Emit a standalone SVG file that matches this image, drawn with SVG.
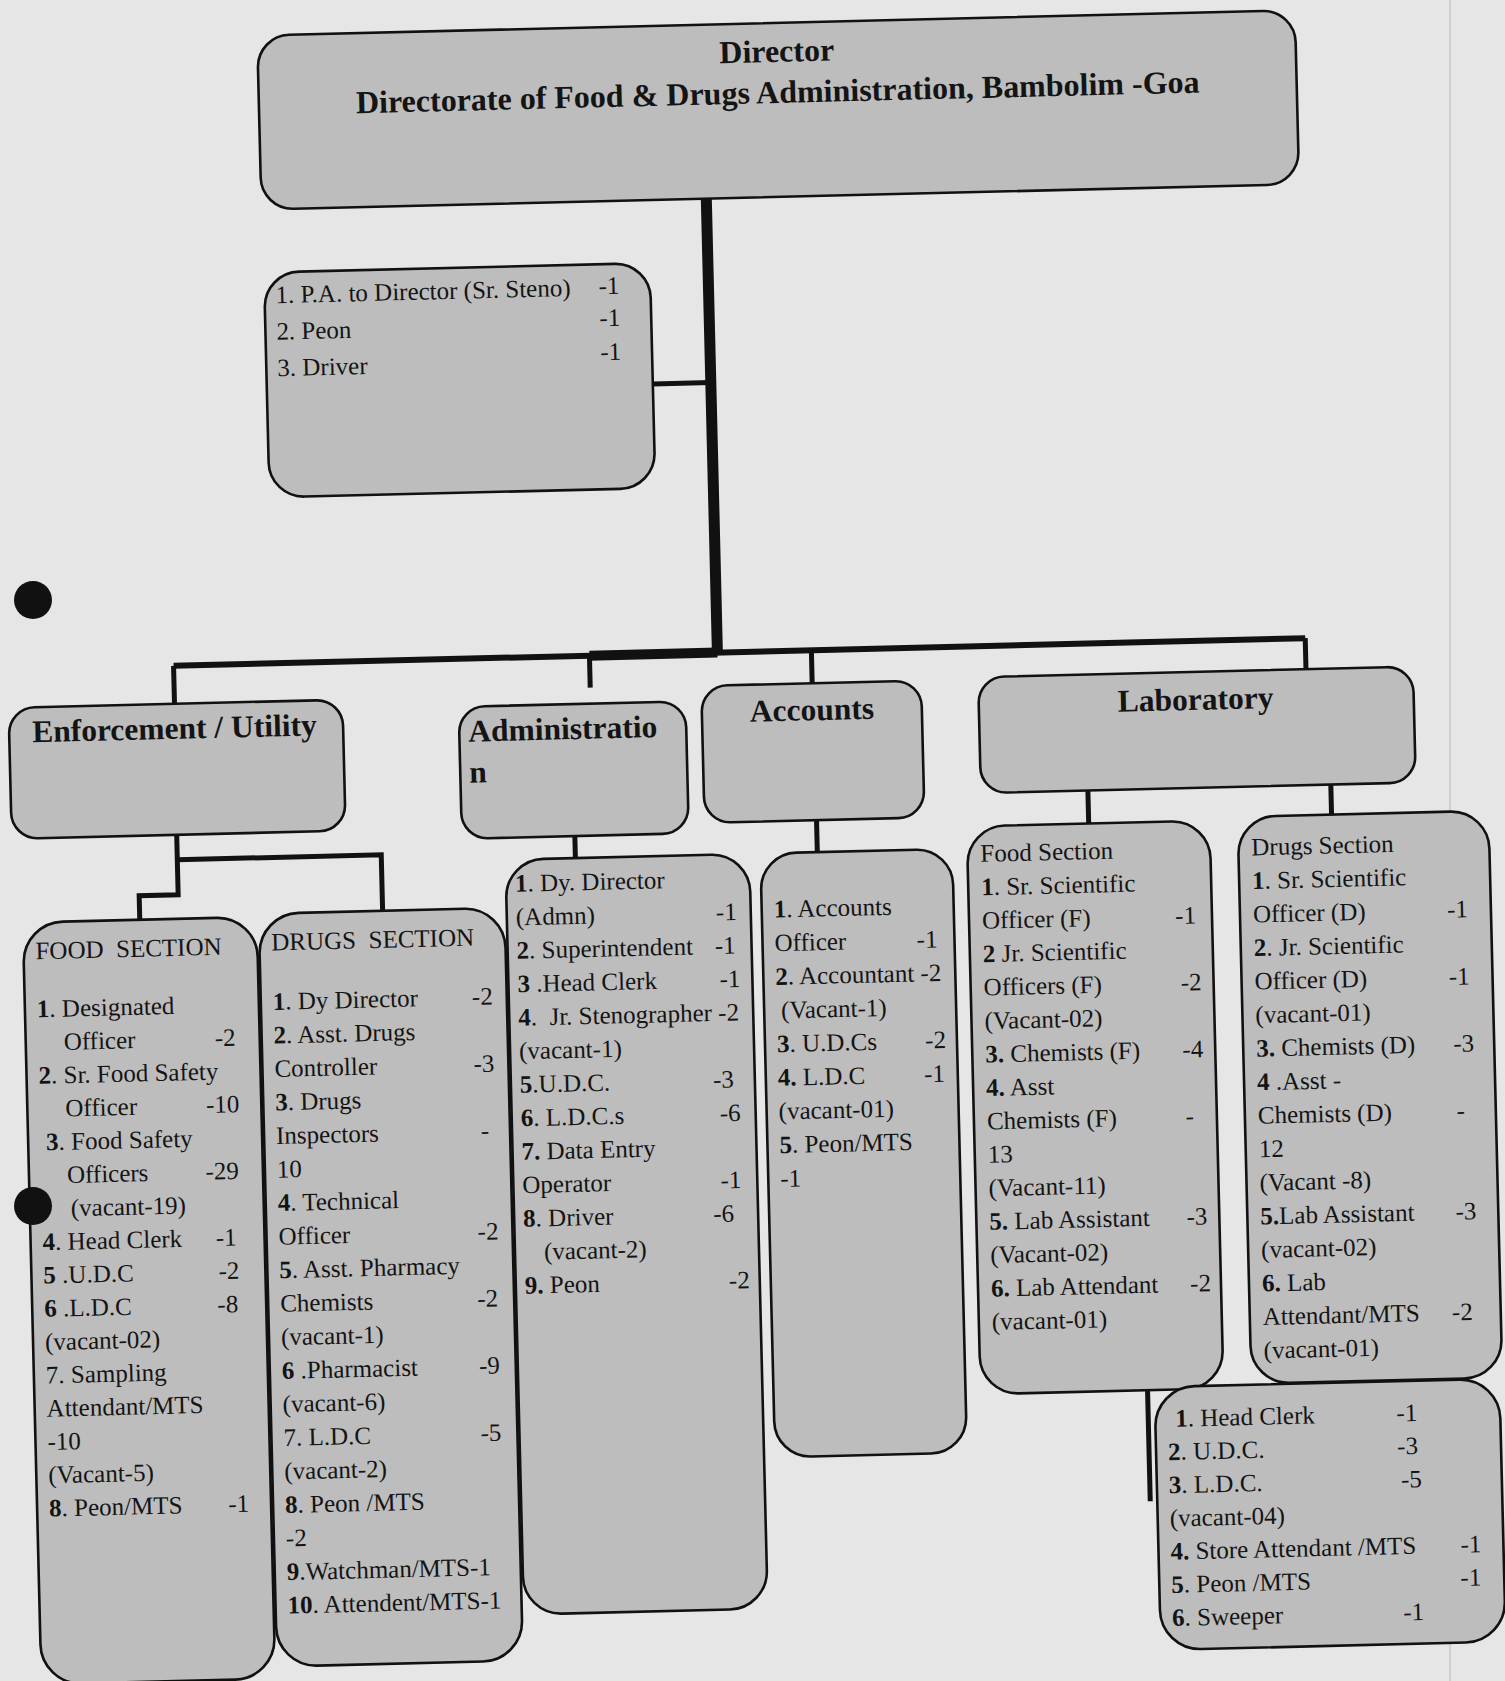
<svg xmlns="http://www.w3.org/2000/svg" width="1505" height="1681" viewBox="0 0 1505 1681">
<style>
.bx{fill:#bdbdbd;stroke:#111;stroke-width:2.6}
.t{font-family:"Liberation Serif","Times New Roman",serif;font-size:25px;fill:#141414}
.h{font-size:31.5px;font-weight:bold}
.d{font-size:32px;font-weight:bold}
.b{font-weight:bold}
.r{text-anchor:end}
.c{text-anchor:middle}
.cn{stroke:#111;fill:none;stroke-linecap:butt}
</style>
<rect x="0" y="0" width="1505" height="1681" fill="#e6e6e6"/>
<line x1="1450" y1="0" x2="1450" y2="1681" stroke="#cfcfcf" stroke-width="2"/>
<g transform="rotate(-1.4 700 800)">
<g id="connectors">
<path class="cn" stroke-width="11" d="M721,199 V653"/>
<path class="cn" stroke-width="5" d="M663,383 H721"/>
<path class="cn" stroke-width="6" d="M177,653 H1309"/>
<path class="cn" stroke-width="10" d="M593,653 H721"/>
<path class="cn" stroke-width="5" d="M177,653 V691 M593,653 V685 M815,653 V686 M1309,653 V684"/>
<path class="cn" stroke-width="5" d="M176,822 V882 H137 V906 M176,847 H380 V903"/>
<path class="cn" stroke-width="5" d="M574,833 V855 M816,823 V855 M1088,800 V833 M1331,800 V830 M1133,1399 V1512"/>
</g>
<g id="director">
<rect class="bx" x="276" y="25" width="1038" height="174" rx="32"/>
<text class="t d c" x="795" y="64">Director</text>
<text class="t d c" x="795" y="105">Directorate of Food &amp; Drugs Administration, Bambolim -Goa</text>
</g>
<g id="pa">
<rect class="bx" x="277" y="262" width="386" height="225" rx="35"/>
<text class="t" x="288" y="293">1. P.A. to Director (Sr. Steno)</text>
<text class="t" x="288" y="329.5">2. Peon</text>
<text class="t" x="288" y="366">3. Driver</text>
<text class="t r" x="632" y="292">-1</text>
<text class="t r" x="632" y="324">-1</text>
<text class="t r" x="632" y="358">-1</text>
</g>
<g id="enforcement">
<rect class="bx" x="11" y="691" width="334" height="131" rx="26"/>
<text class="t h" x="34" y="726">Enforcement / Utility</text>
</g>
<g id="administration">
<rect class="bx" x="461" y="701" width="227" height="132" rx="26"/>
<text class="t h" x="470" y="736">Administratio</text>
<text class="t h" x="470" y="777">n</text>
</g>
<g id="accounts">
<rect class="bx" x="704" y="686" width="220" height="137" rx="26"/>
<text class="t h c" x="814" y="723">Accounts</text>
</g>
<g id="laboratory">
<rect class="bx" x="981" y="684" width="435" height="116" rx="26"/>
<text class="t h c" x="1198" y="722">Laboratory</text>
</g>
<g id="food-section">
<rect class="bx" x="20" y="906" width="234" height="762" rx="40"/>
<text class="t" x="32" y="943" xml:space="preserve">FOOD  SECTION</text>
<text class="t" x="32" y="1001"><tspan class="b">1</tspan>. Designated</text>
<text class="t" x="58" y="1034.3">Officer</text><text class="t r" x="230" y="1034.3">-2</text>
<text class="t" x="32" y="1067.6"><tspan class="b">2</tspan>. Sr. Food Safety</text>
<text class="t" x="58" y="1100.9">Officer</text><text class="t r" x="232" y="1100.9">-10</text>
<text class="t" x="38" y="1134.2"><tspan class="b">3</tspan>. Food Safety</text>
<text class="t" x="58" y="1167.5">Officers</text><text class="t r" x="230" y="1167.5">-29</text>
<text class="t" x="61" y="1200.8">(vacant-19)</text>
<text class="t" x="32" y="1234.1"><tspan class="b">4</tspan>. Head Clerk</text><text class="t r" x="226" y="1234.1">-1</text>
<text class="t" x="32" y="1267.4"><tspan class="b">5</tspan> .U.D.C</text><text class="t r" x="228" y="1267.4">-2</text>
<text class="t" x="32" y="1300.7"><tspan class="b">6</tspan> .L.D.C</text><text class="t r" x="226" y="1300.7">-8</text>
<text class="t" x="32" y="1334">(vacant-02)</text>
<text class="t" x="32" y="1367.3">7. Sampling</text>
<text class="t" x="32" y="1400.6">Attendant/MTS</text>
<text class="t" x="32" y="1433.9">-10</text>
<text class="t" x="32" y="1467.2">(Vacant-5)</text>
<text class="t" x="32" y="1500.5"><tspan class="b">8</tspan>. Peon/MTS</text><text class="t r" x="232" y="1500.5">-1</text>
</g>
<g id="drugs-section">
<rect class="bx" x="256" y="903" width="246" height="753" rx="40"/>
<text class="t" x="268" y="940" xml:space="preserve">DRUGS  SECTION</text>
<text class="t" x="268" y="999.4"><tspan class="b">1</tspan>. Dy Director</text><text class="t r" x="488" y="999.4">-2</text>
<text class="t" x="268" y="1033"><tspan class="b">2</tspan>. Asst. Drugs</text>
<text class="t" x="268" y="1066.5">Controller</text><text class="t r" x="488" y="1066.5">-3</text>
<text class="t" x="268" y="1100"><tspan class="b">3</tspan>. Drugs</text>
<text class="t" x="268" y="1133.6">Inspectors</text><text class="t r" x="481" y="1133.6">-</text>
<text class="t" x="268" y="1167.2">10</text>
<text class="t" x="268" y="1200.7"><tspan class="b">4</tspan>. Technical</text>
<text class="t" x="268" y="1234.3">Officer</text><text class="t r" x="488" y="1234.3">-2</text>
<text class="t" x="268" y="1267.8"><tspan class="b">5</tspan>. Asst. Pharmacy</text>
<text class="t" x="268" y="1301.4">Chemists</text><text class="t r" x="486" y="1301.4">-2</text>
<text class="t" x="268" y="1334.9">(vacant-1)</text>
<text class="t" x="268" y="1368.5"><tspan class="b">6</tspan> .Pharmacist</text><text class="t r" x="486" y="1368.5">-9</text>
<text class="t" x="268" y="1402">(vacant-6)</text>
<text class="t" x="268" y="1435.6">7. L.D.C</text><text class="t r" x="486" y="1435.6">-5</text>
<text class="t" x="268" y="1469.1">(vacant-2)</text>
<text class="t" x="268" y="1502.7"><tspan class="b">8</tspan>. Peon /MTS</text>
<text class="t" x="268" y="1536.2">-2</text>
<text class="t" x="268" y="1569.8"><tspan class="b">9</tspan>.Watchman/MTS-1</text>
<text class="t" x="268" y="1603.3"><tspan class="b">10</tspan>. Attendent/MTS-1</text>
</g>
<g id="admin-list">
<rect class="bx" x="504" y="855" width="244" height="755" rx="38"/>
<text class="t" x="513" y="887.3"><tspan class="b">1</tspan>. Dy. Director</text>
<text class="t" x="513" y="920.8">(Admn)</text><text class="t r" x="734" y="920.8">-1</text>
<text class="t" x="513" y="954.3"><tspan class="b">2</tspan>. Superintendent</text><text class="t r" x="732" y="954.3">-1</text>
<text class="t" x="513" y="987.8"><tspan class="b">3</tspan> .Head Clerk</text><text class="t r" x="736" y="987.8">-1</text>
<text class="t" x="513" y="1021.3" xml:space="preserve"><tspan class="b">4</tspan>.  Jr. Stenographer -2</text>
<text class="t" x="513" y="1054.8">(vacant-1)</text>
<text class="t" x="513" y="1088.3"><tspan class="b">5</tspan>.U.D.C.</text><text class="t r" x="727" y="1088.3">-3</text>
<text class="t" x="513" y="1121.8"><tspan class="b">6</tspan>. L.D.C.s</text><text class="t r" x="733" y="1121.8">-6</text>
<text class="t" x="513" y="1155.3"><tspan class="b">7.</tspan> Data Entry</text>
<text class="t" x="513" y="1188.8">Operator</text><text class="t r" x="732" y="1188.8">-1</text>
<text class="t" x="513" y="1222.3"><tspan class="b">8</tspan>. Driver</text><text class="t r" x="724" y="1222.3">-6</text>
<text class="t" x="533" y="1255.8">(vacant-2)</text>
<text class="t" x="513" y="1289.3"><tspan class="b">9.</tspan> Peon</text><text class="t r" x="738" y="1289.3">-2</text>
</g>
<g id="accounts-list">
<rect class="bx" x="759" y="855" width="192" height="604" rx="36"/>
<text class="t" x="771" y="919.4"><tspan class="b">1</tspan>. Accounts</text>
<text class="t" x="771" y="953.1">Officer</text><text class="t r" x="934" y="953.1">-1</text>
<text class="t" x="771" y="986.7"><tspan class="b">2</tspan>. Accountant -2</text>
<text class="t" x="776" y="1020.4">(Vacant-1)</text>
<text class="t" x="771" y="1054"><tspan class="b">3</tspan>. U.D.Cs</text><text class="t r" x="940" y="1054">-2</text>
<text class="t" x="771" y="1087.7"><tspan class="b">4.</tspan> L.D.C</text><text class="t r" x="938" y="1087.7">-1</text>
<text class="t" x="771" y="1121.4">(vacant-01)</text>
<text class="t" x="771" y="1155"><tspan class="b">5</tspan>. Peon/MTS</text>
<text class="t" x="771" y="1188.7">-1</text>
</g>
<g id="lab-food">
<rect class="bx" x="966" y="833" width="243" height="568" rx="38"/>
<text class="t" x="979" y="868.7">Food Section</text>
<text class="t" x="979" y="902.2"><tspan class="b">1</tspan>. Sr. Scientific</text>
<text class="t" x="979" y="935.6">Officer (F)</text><text class="t r" x="1193" y="935.6">-1</text>
<text class="t" x="979" y="969"><tspan class="b">2</tspan> Jr. Scientific</text>
<text class="t" x="979" y="1002.5">Officers (F)</text><text class="t r" x="1197" y="1002.5">-2</text>
<text class="t" x="979" y="1036">(Vacant-02)</text>
<text class="t" x="979" y="1069.4"><tspan class="b">3.</tspan> Chemists (F)</text><text class="t r" x="1197" y="1069.4">-4</text>
<text class="t" x="979" y="1102.9"><tspan class="b">4.</tspan> Asst</text>
<text class="t" x="979" y="1136.3">Chemists (F)</text><text class="t r" x="1186" y="1136.3">-</text>
<text class="t" x="979" y="1169.8">13</text>
<text class="t" x="979" y="1203.2">(Vacant-11)</text>
<text class="t" x="979" y="1236.7"><tspan class="b">5.</tspan> Lab Assistant</text><text class="t r" x="1197" y="1236.7">-3</text>
<text class="t" x="979" y="1270.1">(Vacant-02)</text>
<text class="t" x="979" y="1303.6"><tspan class="b">6.</tspan> Lab Attendant</text><text class="t r" x="1199" y="1303.6">-2</text>
<text class="t" x="979" y="1337">(vacant-01)</text>
</g>
<g id="lab-drugs">
<rect class="bx" x="1237" y="830" width="251" height="567" rx="38"/>
<text class="t" x="1250" y="868.9">Drugs Section</text>
<text class="t" x="1250" y="902.5"><tspan class="b">1</tspan>. Sr. Scientific</text>
<text class="t" x="1250" y="936">Officer (D)</text><text class="t r" x="1465" y="936">-1</text>
<text class="t" x="1250" y="969.6"><tspan class="b">2</tspan>. Jr. Scientific</text>
<text class="t" x="1250" y="1003.1">Officer (D)</text><text class="t r" x="1465" y="1003.1">-1</text>
<text class="t" x="1250" y="1036.7">(vacant-01)</text>
<text class="t" x="1250" y="1070.2"><tspan class="b">3.</tspan> Chemists (D)</text><text class="t r" x="1468" y="1070.2">-3</text>
<text class="t" x="1250" y="1103.8"><tspan class="b">4</tspan> .Asst -</text>
<text class="t" x="1250" y="1137.3">Chemists (D)</text><text class="t r" x="1457" y="1137.3">-</text>
<text class="t" x="1250" y="1170.9">12</text>
<text class="t" x="1250" y="1204.4">(Vacant -8)</text>
<text class="t" x="1250" y="1238"><tspan class="b">5.</tspan>Lab Assistant</text><text class="t r" x="1466" y="1238">-3</text>
<text class="t" x="1250" y="1271.5">(vacant-02)</text>
<text class="t" x="1250" y="1305.1"><tspan class="b">6.</tspan> Lab</text>
<text class="t" x="1250" y="1338.6">Attendant/MTS</text><text class="t r" x="1460" y="1338.6">-2</text>
<text class="t" x="1250" y="1372.2">(vacant-01)</text>
</g>
<g id="lab-office">
<rect class="bx" x="1140" y="1398" width="345" height="263" rx="40"/>
<text class="t" x="1160" y="1438.2"><tspan class="b">1</tspan>. Head Clerk</text><text class="t r" x="1402" y="1438.2">-1</text>
<text class="t" x="1152" y="1471.4"><tspan class="b">2</tspan>. U.D.C.</text><text class="t r" x="1402" y="1471.4">-3</text>
<text class="t" x="1152" y="1504.6"><tspan class="b">3</tspan>. L.D.C.</text><text class="t r" x="1405" y="1504.6">-5</text>
<text class="t" x="1152" y="1537.8">(vacant-04)</text>
<text class="t" x="1152" y="1571"><tspan class="b">4.</tspan> Store Attendant /MTS</text><text class="t r" x="1463" y="1571">-1</text>
<text class="t" x="1152" y="1604.2"><tspan class="b">5</tspan>. Peon /MTS</text><text class="t r" x="1462" y="1604.2">-1</text>
<text class="t" x="1152" y="1637.4"><tspan class="b">6</tspan>. Sweeper</text><text class="t r" x="1404" y="1637.4">-1</text>
</g>
</g>
<circle cx="33" cy="600" r="19" fill="#111"/>
<circle cx="33" cy="1206" r="19" fill="#111"/>
</svg>
